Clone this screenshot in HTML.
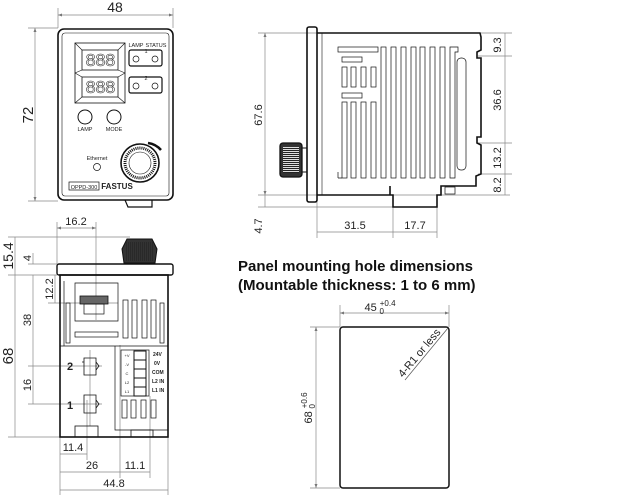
<!DOCTYPE html>
<html><head><meta charset="utf-8"><style>
html,body{margin:0;padding:0;background:#fff;}
svg{display:block;font-family:"Liberation Sans",Arial,sans-serif;}
</style></head><body>
<svg width="640" height="501" viewBox="0 0 640 501" xmlns="http://www.w3.org/2000/svg">
<defs>
<marker id="a" viewBox="0 0 8 6" refX="8" refY="3" markerWidth="6" markerHeight="5" orient="auto-start-reverse"><path d="M0,0L8,3L0,6z" fill="#777"/></marker>
<pattern id="k" width="2" height="2" patternUnits="userSpaceOnUse"><rect width="2" height="1" fill="#222"/></pattern>
<pattern id="kv" width="2" height="2" patternUnits="userSpaceOnUse"><rect width="1" height="2" fill="#222"/></pattern>
</defs>
<g stroke="#888" stroke-width="0.7" fill="none">
<line x1="58" y1="8" x2="58" y2="28"/><line x1="173" y1="8" x2="173" y2="28"/>
<line x1="58" y1="15" x2="173" y2="15" marker-start="url(#a)" marker-end="url(#a)"/>
<line x1="28" y1="28" x2="58" y2="28"/><line x1="28" y1="201" x2="58" y2="201"/>
<line x1="35" y1="28" x2="35" y2="201" marker-start="url(#a)" marker-end="url(#a)"/>
<line x1="258" y1="33" x2="317" y2="33"/><line x1="258" y1="195" x2="510" y2="195"/><line x1="258" y1="207" x2="393" y2="207"/>
<line x1="265" y1="33" x2="265" y2="195" marker-start="url(#a)" marker-end="url(#a)"/>
<line x1="265" y1="195" x2="265" y2="207"/>
<line x1="481" y1="33" x2="512" y2="33"/><line x1="478" y1="56" x2="512" y2="56"/><line x1="478" y1="143" x2="512" y2="143"/><line x1="478" y1="174" x2="512" y2="174"/>
<line x1="505" y1="33" x2="505" y2="195"/>
<line x1="317" y1="200" x2="317" y2="238"/><line x1="393" y1="200" x2="393" y2="238"/><line x1="437" y1="200" x2="437" y2="238"/>
<line x1="317" y1="232" x2="437" y2="232"/>
<line x1="57" y1="222" x2="57" y2="264"/><line x1="96" y1="222" x2="96" y2="320"/>
<line x1="57" y1="228" x2="96" y2="228" marker-start="url(#a)" marker-end="url(#a)"/>
<line x1="8" y1="237" x2="130" y2="237"/><line x1="8" y1="275" x2="57" y2="275"/><line x1="28" y1="264" x2="57" y2="264"/>
<line x1="15" y1="237" x2="15" y2="275"/><line x1="33" y1="253" x2="33" y2="264"/>
<line x1="15" y1="275" x2="15" y2="437"/><line x1="8" y1="437" x2="60" y2="437"/>
<line x1="33" y1="275" x2="33" y2="404"/><line x1="55" y1="275" x2="55" y2="303"/>
<line x1="48" y1="303" x2="118" y2="303"/><line x1="28" y1="366" x2="102" y2="366"/><line x1="28" y1="404" x2="102" y2="404"/>
<line x1="60" y1="437" x2="60" y2="495"/><line x1="168" y1="437" x2="168" y2="495"/><line x1="87" y1="400" x2="87" y2="460"/><line x1="120" y1="345" x2="120" y2="478"/><line x1="150" y1="396" x2="150" y2="478"/>
<line x1="60" y1="454" x2="87" y2="454"/><line x1="60" y1="472" x2="150" y2="472"/><line x1="60" y1="490" x2="168" y2="490"/>
<line x1="90" y1="350" x2="90" y2="426"/>
<line x1="340" y1="305" x2="340" y2="327"/><line x1="449" y1="305" x2="449" y2="327"/>
<line x1="340" y1="313" x2="449" y2="313" marker-start="url(#a)" marker-end="url(#a)"/>
<line x1="310" y1="327" x2="340" y2="327"/><line x1="310" y1="488" x2="340" y2="488"/>
<line x1="316" y1="327" x2="316" y2="488" marker-start="url(#a)" marker-end="url(#a)"/>
</g>
<g font-size="11" fill="#222" text-anchor="middle">
<text x="115" y="12" font-size="14">48</text>
<text transform="translate(33,115) rotate(-90)" font-size="15">72</text>
<text transform="translate(262,115) rotate(-90)">67.6</text>
<text transform="translate(501,45) rotate(-90)">9.3</text>
<text transform="translate(501,100) rotate(-90)">36.6</text>
<text transform="translate(501,158) rotate(-90)">13.2</text>
<text transform="translate(501,185) rotate(-90)">8.2</text>
<text transform="translate(262,226) rotate(-90)">4.7</text>
<text x="355" y="229">31.5</text><text x="415" y="229">17.7</text>
<text x="76" y="225">16.2</text>
<text transform="translate(13,256) rotate(-90)" font-size="14">15.4</text>
<text transform="translate(31,258) rotate(-90)">4</text>
<text transform="translate(13,356) rotate(-90)" font-size="15">68</text>
<text transform="translate(53,289) rotate(-90)">12.2</text>
<text transform="translate(31,320) rotate(-90)">38</text>
<text transform="translate(31,385) rotate(-90)">16</text>
<text x="73" y="451">11.4</text><text x="92" y="469">26</text><text x="135" y="469">11.1</text><text x="114" y="487">44.8</text>
<text x="380" y="311">45 <tspan font-size="8" dy="-5">+0.4</tspan><tspan font-size="8" dx="-16" dy="8">0</tspan></text>
<text transform="translate(312,408) rotate(-90)">68 <tspan font-size="8" dy="-5">+0.6</tspan><tspan font-size="8" dx="-16" dy="8">0</tspan></text>
</g>
<g font-size="15" font-weight="bold" fill="#111">
<text x="238" y="271">Panel mounting hole dimensions</text>
<text x="238" y="290">(Mountable thickness: 1 to 6 mm)</text>
</g>
<rect x="340" y="327" width="109" height="161" rx="3" fill="none" stroke="#111" stroke-width="1.5"/>
<line x1="448" y1="328" x2="405" y2="380" stroke="#555" stroke-width="0.7"/>
<text transform="translate(403,378) rotate(-50)" font-size="11" fill="#222">4-R1 or less</text>

<!-- FRONT VIEW -->
<g stroke="#111" fill="none">
<rect x="58" y="29" width="115" height="171" rx="6" stroke-width="1.6"/>
<rect x="62" y="33" width="107" height="163" rx="3" stroke-width="0.6"/>
<path d="M125,200 L128,207 L152,207 L152,200" stroke-width="1.2"/>
<rect x="75" y="43" width="50" height="60" stroke-width="0.8"/>
<rect x="82" y="50" width="36" height="20" stroke-width="0.8"/>
<rect x="82" y="77" width="36" height="20" stroke-width="0.8"/>
<path d="M75,43L82,50M125,43L118,50M75,103L82,97M125,103L118,97M75,73L82,70M125,73L118,70M75,73L82,77M125,73L118,77" stroke-width="0.6"/>
<rect x="129" y="50" width="33" height="16" rx="2" stroke-width="1.2"/>
<rect x="129" y="77" width="33" height="16" rx="2" stroke-width="1.2"/>
<circle cx="136" cy="59" r="3" stroke-width="0.7"/><circle cx="155" cy="59" r="3" stroke-width="0.7"/>
<circle cx="136" cy="86" r="3" stroke-width="0.7"/><circle cx="155" cy="86" r="3" stroke-width="0.7"/>
<circle cx="85" cy="117" r="7" stroke-width="1"/><circle cx="114" cy="117" r="7" stroke-width="1"/>
<circle cx="97" cy="167" r="3.5" stroke-width="0.7"/>
<circle cx="140" cy="163" r="19" stroke-width="1.6"/>
<circle cx="140" cy="163" r="15" stroke-width="3" stroke-dasharray="1 1"/>
<circle cx="140" cy="163" r="11" stroke-width="0.6"/>
<path d="M148,143 A21,21 0 0 1 161,150" stroke-width="2.5"/>
<rect x="69" y="182" width="30" height="8" stroke-width="0.7"/>
</g>
<g fill="none" stroke="#333" stroke-width="0.6" font-size="18" font-family="Liberation Mono,monospace" text-anchor="middle">
<text x="100" y="66" letter-spacing="-1">888</text>
<text x="100" y="93" letter-spacing="-1">888</text>
</g>
<g fill="#222" font-size="5.5" text-anchor="middle">
<text x="136" y="47">LAMP</text><text x="156" y="47">STATUS</text>
<text x="146" y="53">1</text><text x="146" y="80">2</text>
<text x="85" y="131">LAMP</text><text x="114" y="131">MODE</text>
<text x="97" y="160">Ethernet</text>
<text x="84" y="189">OPPD-300</text>
<text x="117" y="189" font-size="8" font-weight="bold">FASTUS</text>
</g>

<!-- SIDE VIEW -->
<g stroke="#111" fill="none">
<rect x="307" y="27" width="10" height="175" rx="2" stroke-width="1.6"/>
<line x1="322" y1="33" x2="322" y2="195" stroke-width="0.6"/>
<path d="M317,33 L480,33 L481,37 L481,50 L477,52 L477,58 L481,58 L481,137 L477,137 L477,143 L481,145 L481,174 L476,176 L476,186 L441,186 L441,195 L437,195 L437,207 L393,207 L393,195 L390,195 L390,186 L390,195 L317,195" stroke-width="1.6"/>
<rect x="445" y="187" width="10" height="7" stroke-width="0.7"/>
<rect x="280" y="143" width="22" height="34" rx="3" stroke-width="1.3" fill="#333"/>
<rect x="302" y="148" width="5" height="24" stroke-width="1"/>
<rect x="338" y="47" width="40" height="5" stroke-width="0.7"/>
<rect x="342" y="57" width="20" height="5" stroke-width="0.7"/>
<rect x="342" y="93" width="20" height="5" stroke-width="0.7"/>
<rect x="457" y="58" width="9" height="112" rx="4" stroke-width="0.7"/>
</g>
<rect x="283" y="147" width="16" height="26" fill="#ddd"/>
<rect x="283" y="147" width="16" height="26" fill="url(#k)"/>
<g stroke="#111" stroke-width="0.7" fill="none">
<rect x="342" y="67" width="5" height="20"/><rect x="351" y="67" width="5" height="20"/><rect x="361" y="67" width="5" height="20"/><rect x="371" y="67" width="5" height="20"/>
<rect x="342" y="102" width="5" height="76"/><rect x="351" y="102" width="5" height="76"/><rect x="361" y="102" width="5" height="76"/><rect x="371" y="102" width="5" height="76"/>
<rect x="381" y="47" width="5" height="131"/><rect x="391" y="47" width="5" height="131"/><rect x="401" y="47" width="5" height="131"/><rect x="411" y="47" width="5" height="131"/><rect x="420" y="47" width="5" height="131"/><rect x="430" y="47" width="5" height="131"/><rect x="440" y="47" width="5" height="131"/>
<path d="M450,47 L458,47 L458,52 L455,52 L455,178 L450,178Z"/>
<path d="M338,178 L342,178 M338,172 L338,178"/>
</g>

<!-- BOTTOM VIEW -->
<g stroke="#111" fill="none">
<rect x="57" y="264" width="116" height="11" rx="2" stroke-width="1.4"/>
<rect x="60" y="275" width="108" height="162" stroke-width="1.6"/>
<path d="M124,263 L122,249 L127,239 L152,239 L157,249 L155,263Z" fill="#333" stroke-width="1"/>
<line x1="60" y1="346" x2="168" y2="346" stroke-width="0.7"/>
<path d="M64,281 L64,346 M75,283 L118,283 L118,321 L75,321Z" stroke-width="0.7"/>
<rect x="80" y="296" width="28" height="8" stroke-width="0.8" fill="#666"/>
<rect x="84" y="304" width="20" height="10" stroke-width="0.7"/>
<rect x="75" y="332" width="43" height="5" stroke-width="0.7"/>
<rect x="66" y="303" width="4" height="40" stroke-width="0.7"/>
<rect x="123" y="300" width="5" height="38" stroke-width="0.7"/><rect x="132" y="300" width="5" height="38" stroke-width="0.7"/><rect x="142" y="300" width="5" height="38" stroke-width="0.7"/><rect x="151" y="300" width="5" height="38" stroke-width="0.7"/><rect x="160" y="303" width="4" height="40" stroke-width="0.7"/>
<path d="M115,346 L115,430 L168,430" stroke-width="0.7"/>
<rect x="121" y="350" width="28" height="46" stroke-width="0.7"/>
<rect x="134" y="351" width="12" height="9" stroke-width="1"/><rect x="134" y="360" width="12" height="9" stroke-width="1"/><rect x="134" y="369" width="12" height="9" stroke-width="1"/><rect x="134" y="378" width="12" height="9" stroke-width="1"/><rect x="134" y="387" width="12" height="9" stroke-width="1"/>
<rect x="122" y="400" width="5" height="18" stroke-width="0.7"/><rect x="131" y="400" width="5" height="18" stroke-width="0.7"/><rect x="141" y="400" width="5" height="18" stroke-width="0.7"/><rect x="151" y="400" width="5" height="18" stroke-width="0.7"/>
<path d="M84,358 L96,358 L96,375 L84,375Z M82,362 L84,362 M96,362 L99,366 L96,370" stroke-width="0.8"/>
<path d="M84,395 L96,395 L96,413 L84,413Z M96,400 L99,404 L96,408" stroke-width="0.8"/>
<rect x="75" y="426" width="23" height="11" stroke-width="0.8"/>
<rect x="131" y="430" width="22" height="7" stroke-width="0.8"/>
</g>
<rect x="126" y="242" width="27" height="19" fill="url(#kv)" opacity="0.6"/>
<g fill="#222" font-size="5" font-weight="bold">
<text x="153" y="356">24V</text><text x="154" y="365">0V</text><text x="152" y="374">COM</text><text x="152" y="383">L2 IN</text><text x="152" y="392">L1 IN</text>
</g>
<g fill="#222" font-size="4" text-anchor="middle">
<text x="127" y="357">+V</text><text x="127" y="366">-V</text><text x="127" y="375">C</text><text x="127" y="384">L2</text><text x="127" y="393">L1</text>
</g>
<g fill="#222" font-size="11" font-weight="bold">
<text x="67" y="370">2</text><text x="67" y="409">1</text>
</g>
</svg>
</body></html>
